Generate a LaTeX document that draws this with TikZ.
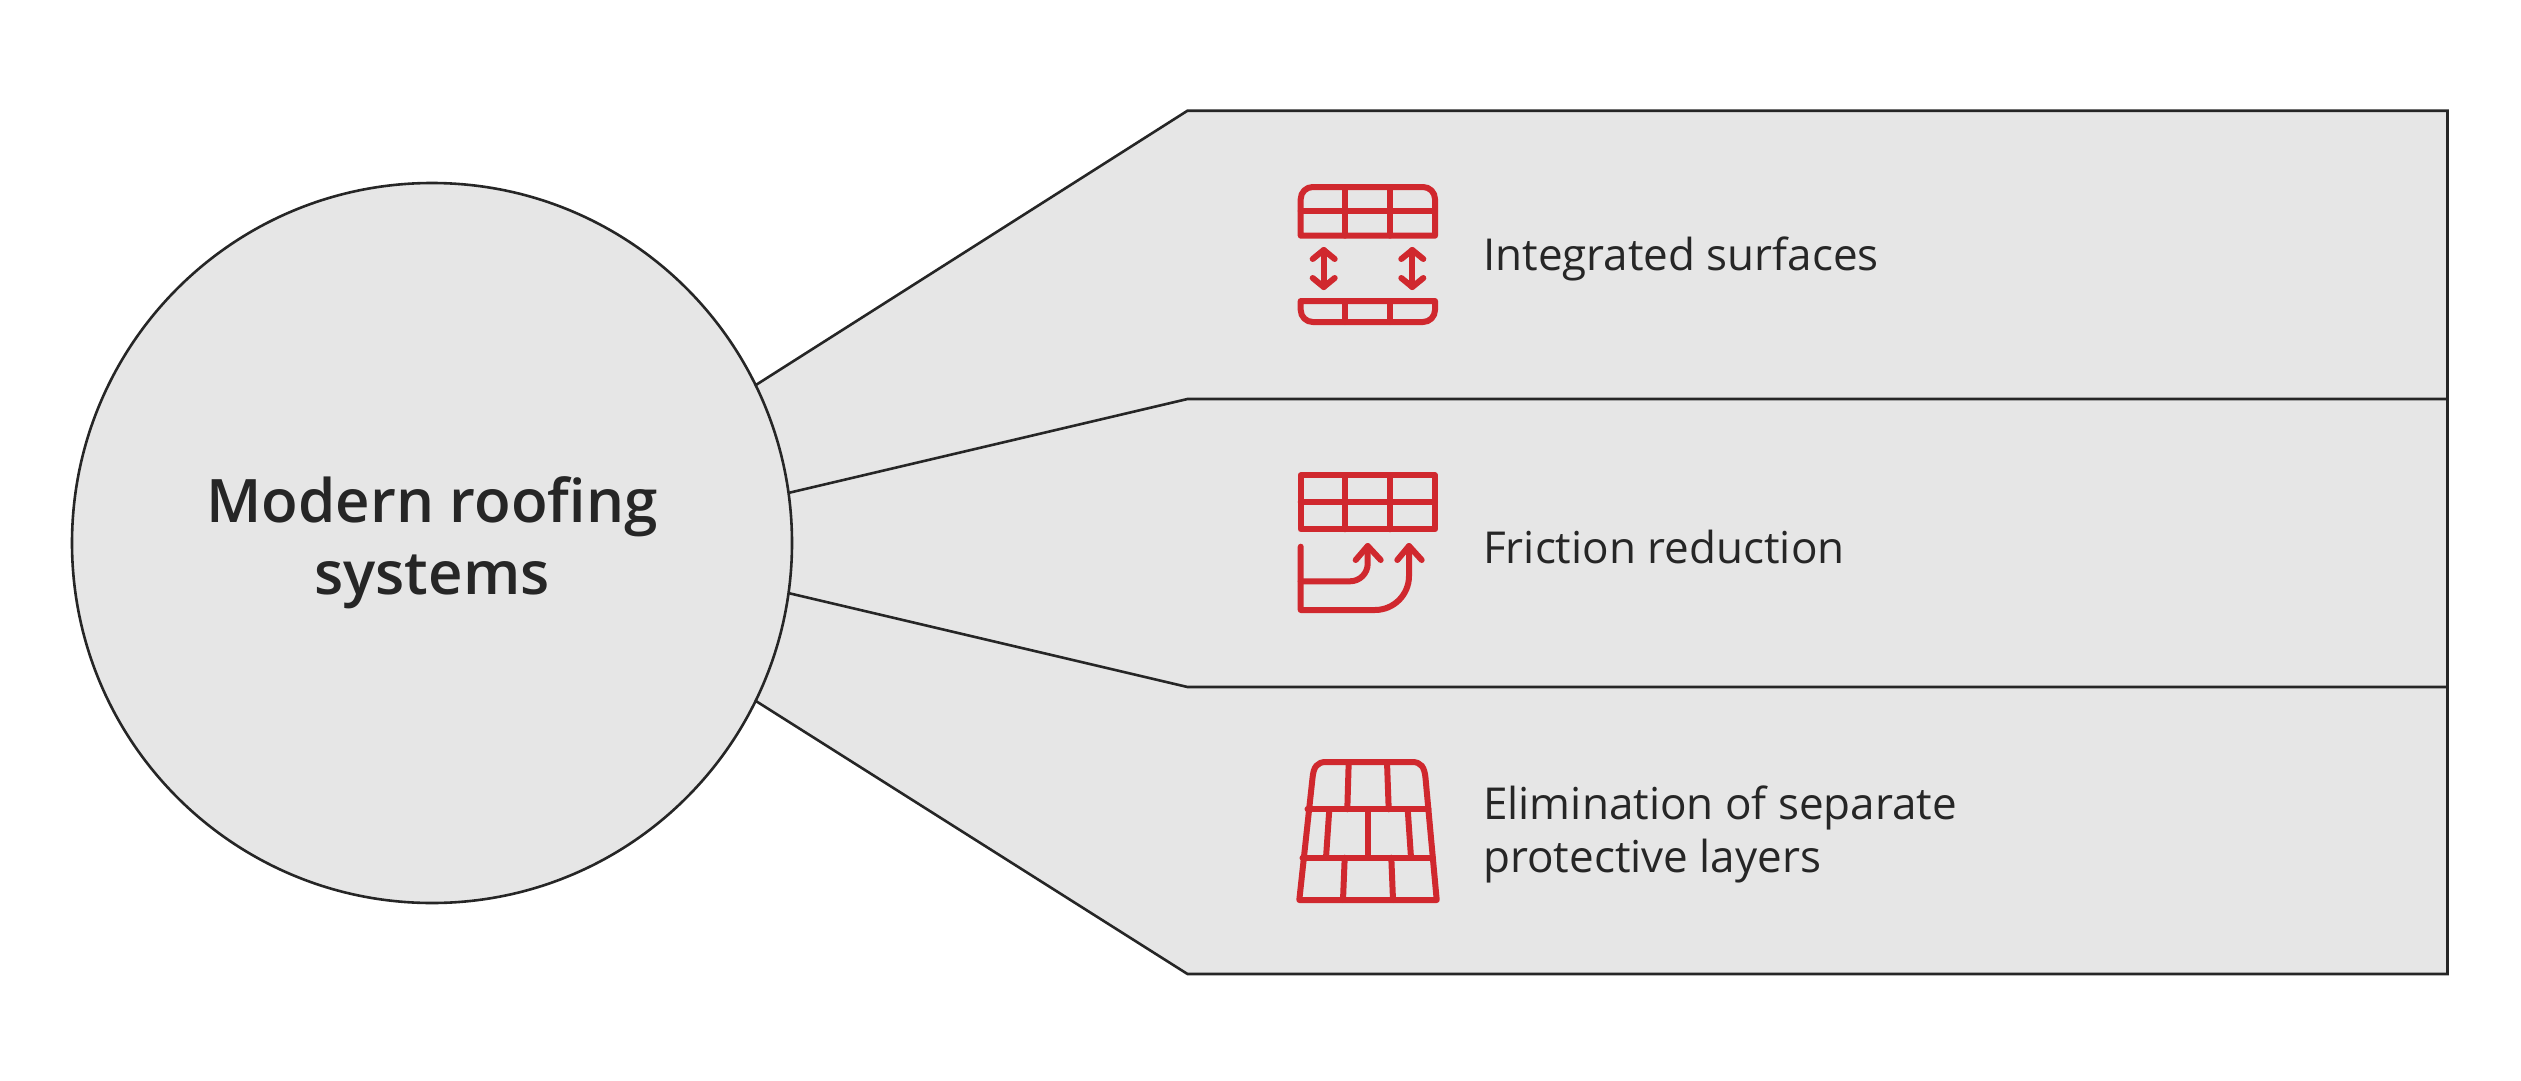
\documentclass[tikz,border=0pt]{standalone}
\usepackage{fontspec}
\setmainfont{Open Sans}
\newfontfamily\titlefont{Open Sans Semibold}
\usetikzlibrary{backgrounds}
\definecolor{panelgray}{HTML}{E6E6E6}
\definecolor{inkdark}{HTML}{262626}
\definecolor{roofred}{HTML}{D0282E}
\tikzset{
  hub/.style={circle,draw=inkdark,line width=2.6pt,fill=panelgray,minimum size=720pt,
    inner sep=0pt,outer sep=0pt,text=inkdark,align=center,
    font=\titlefont\fontsize{60}{72}\selectfont},
  edge/.style={draw=inkdark,line width=2.6pt,line join=miter},
  caption/.style={anchor=west,inner sep=0pt,text=inkdark,align=left,
    font=\fontsize{44}{53}\selectfont},
  icon/.style={draw=roofred,line width=6pt,line join=round,line cap=round},
}
\begin{document}
\begin{tikzpicture}[x=1pt,y=-1pt]
    \useasboundingbox (0,0) rectangle (2521,1081);

    % circle
    \node[hub] (hub) at (432,543) {Modern roofing\\systems};

    % corners of the panels
    \coordinate (c1) at (1187.5,110.7);
    \coordinate (c2) at (1187.5,399);
    \coordinate (c3) at (1187.5,687);
    \coordinate (c4) at (1187.5,974);
    \coordinate (r1) at (2447.5,110.7);
    \coordinate (r2) at (2447.5,399);
    \coordinate (r3) at (2447.5,687);
    \coordinate (r4) at (2447.5,974);

    % panels
    \begin{scope}[on background layer]
      \fill[panelgray] (hub.26.85) -- (c1) -- (r1) -- (r4) -- (c4) -- (hub.-26.85) -- cycle;
    \end{scope}
    \draw[edge] (hub.26.85) -- (c1) -- (r1) -- (r4) -- (c4) -- (hub.-26.85);
    \draw[edge] (hub.8.77) -- (c2) -- (r2);
    \draw[edge] (hub.-8.77) -- (c3) -- (r3);

    % labels
    \node[caption] (surfaces) at (1483,259) {Integrated surfaces};
    \node[caption] (friction) at (1483,547) {Friction reduction};
    \node[caption] (layers) at (1483,834) {Elimination of separate\\protective layers};

    % first icon
    \draw[icon] (1300.7,235.7) -- (1300.7,199) arc (180:270:12) -- (1423,187) arc (270:360:12)
      -- (1435,235.7) -- cycle;
    \draw[icon] (1300.7,211) -- (1435,211);
    \draw[icon] (1345,187) -- (1345,235.7);
    \draw[icon] (1390,187) -- (1390,235.7);
    \draw[icon] (1323.7,250) -- (1323.7,287);
    \draw[icon] (1312.7,259) -- (1323.7,250) -- (1334.7,259);
    \draw[icon] (1312.7,278) -- (1323.7,287) -- (1334.7,278);
    \draw[icon] (1412.3,250) -- (1412.3,287);
    \draw[icon] (1401.3,259) -- (1412.3,250) -- (1423.3,259);
    \draw[icon] (1401.3,278) -- (1412.3,287) -- (1423.3,278);
    \draw[icon] (1300.7,301) -- (1435,301) -- (1435,310) arc (0:90:12) -- (1312.7,322)
      arc (90:180:12) -- cycle;
    \draw[icon] (1345,301) -- (1345,322);
    \draw[icon] (1390,301) -- (1390,322);

    % second icon
    \draw[icon] (1300.7,475.3) rectangle (1435,529.3);
    \draw[icon] (1300.7,502.3) -- (1435,502.3);
    \draw[icon] (1345,475.3) -- (1345,529.3);
    \draw[icon] (1390,475.3) -- (1390,529.3);
    \draw[icon] (1300.7,546.7) -- (1300.7,610) -- (1375,610)
      arc (90:0:34) -- (1409,546);
    \draw[icon] (1300.7,581.3) -- (1350,581.3) arc (90:0:17.7) -- (1367.7,546);
    \draw[icon] (1355.7,560) -- (1367.7,546) -- (1380.7,560);
    \draw[icon] (1397.3,560) -- (1409,546) -- (1421.7,560);

    % third icon
    \draw[icon] (1299.3,900) -- (1312.5,778) .. controls (1313.5,767) and (1317,762) .. (1326,762)
      -- (1412,762) .. controls (1421,762) and (1424.5,767) .. (1425.5,778) -- (1436.7,900) -- cycle;
    \draw[icon] (1307.5,809.3) -- (1428.5,809.3);
    \draw[icon] (1302.5,857.7) -- (1433,857.7);
    \draw[icon] (1348.7,762) -- (1347.3,809.3);
    \draw[icon] (1387,762) -- (1388.7,809.3);
    \draw[icon] (1329.3,809.3) -- (1326,857.7);
    \draw[icon] (1368,809.3) -- (1368,857.7);
    \draw[icon] (1407.7,809.3) -- (1411,857.7);
    \draw[icon] (1344.7,857.7) -- (1343,900);
    \draw[icon] (1391.3,857.7) -- (1393,900);
\end{tikzpicture}
\end{document}
